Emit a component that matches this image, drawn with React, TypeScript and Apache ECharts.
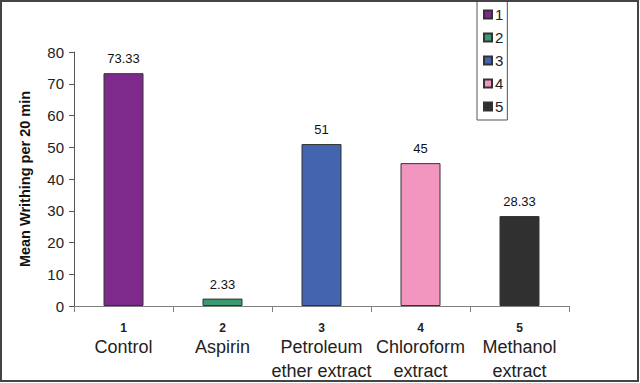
import React, { useEffect, useRef } from "react";
import * as echarts from "echarts";

const categoryNumbers = ["1", "2", "3", "4", "5"];
const categoryNames = ["Control", "Aspirin", "Petroleum\nether extract", "Chloroform\nextract", "Methanol\nextract"];
const values = [73.33, 2.33, 51, 45, 28.33];
const colors = ["#7D2A8C", "#3A9A70", "#4464AE", "#F296C0", "#303030"];
const yTicks = { min: 0, max: 80, interval: 10 };

export default function App() {
  const ref = useRef<HTMLDivElement>(null);
  useEffect(() => {
    if (!ref.current) return;
    const chart = echarts.init(ref.current, undefined, { renderer: "svg" });
    const series = values.map((v, i) => ({
      name: categoryNumbers[i],
      type: "bar",
      stack: "all",
      barWidth: 40,
      data: values.map((_, j) => (j === i ? v : "-")),
      itemStyle: { color: colors[i], borderColor: "#333", borderWidth: 1 },
      label: {
        show: true,
        position: "top",
        distance: 8,
        fontFamily: "Arial, Liberation Sans, sans-serif",
        fontSize: 13,
        color: "#111",
        formatter: (p: any) => String(p.value),
      },
    }));
    chart.setOption({
      animation: false,
      backgroundColor: "#fff",
      textStyle: { fontFamily: "Arial, Liberation Sans, sans-serif" },
      graphic: [
        {
          type: "rect",
          shape: { x: 1, y: 1, width: 637, height: 380 },
          style: { fill: "none", stroke: "#444", lineWidth: 2 },
          z: 100,
        },
      ],
      legend: {
        orient: "vertical",
        left: 477,
        top: -2,
        padding: [9, 4, 6, 6],
        itemGap: 8,
        itemWidth: 8,
        itemHeight: 8,
        icon: "rect",
        borderColor: "#555",
        borderWidth: 1,
        textStyle: { fontSize: 15, color: "#222", padding: [0, 0, 0, -2] },
        data: categoryNumbers,
      },
      grid: { left: 74, right: 71, top: 52, bottom: 77, containLabel: false },
      xAxis: {
        type: "category",
        data: categoryNames.map((n, i) => `${categoryNumbers[i]}\n${n}`),
        boundaryGap: true,
        axisLine: { lineStyle: { color: "#808080", width: 1 } },
        axisTick: { show: true, length: 6, lineStyle: { color: "#808080" } },
        axisLabel: {
          interval: 0,
          margin: 14,
          formatter: (val: string) => {
            const parts = val.split("\n");
            return [`{n|${parts[0]}}`, ...parts.slice(1).map((p) => `{c|${p}}`)].join("\n");
          },
          rich: {
            n: { fontSize: 12, fontWeight: "bold", color: "#222", lineHeight: 15, align: "center" },
            c: { fontSize: 18, color: "#222", lineHeight: 24, align: "center" },
          },
        },
      },
      yAxis: {
        type: "value",
        min: yTicks.min,
        max: yTicks.max,
        interval: yTicks.interval,
        name: "Mean Writhing per 20 min",
        nameLocation: "middle",
        nameGap: 42,
        nameTextStyle: { fontSize: 14.5, fontWeight: "bold", color: "#111" },
        axisLine: { show: true, lineStyle: { color: "#555", width: 1 } },
        axisTick: { show: true, length: 5, lineStyle: { color: "#555" } },
        axisLabel: { fontSize: 15, color: "#222", margin: 10 },
        splitLine: { show: false },
      },
      series,
    });
    return () => chart.dispose();
  }, []);
  return (
    <div
      ref={ref}
      style={{ position: "fixed", left: 0, top: 0, width: 640, height: 383 }}
    />
  );
}
